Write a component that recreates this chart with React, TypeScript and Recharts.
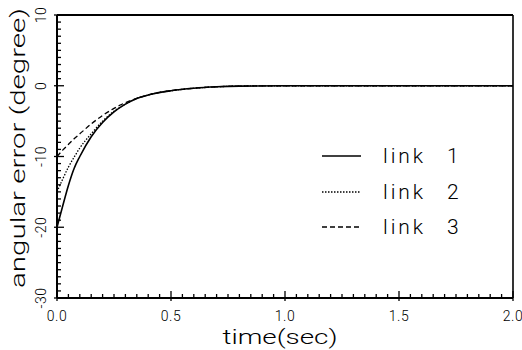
import { LineChart, Line, XAxis, YAxis, ReferenceLine, Legend } from "recharts";

const time = [0, 0.025, 0.05, 0.075, 0.1, 0.15, 0.2, 0.25, 0.3, 0.35, 0.4, 0.5, 0.6, 0.7, 0.8, 1.0, 1.5, 2.0];
const link1 = [-20, -17.0, -14.1, -11.7, -10.0, -7.2, -5.2, -3.7, -2.6, -1.8, -1.3, -0.7, -0.35, -0.15, -0.05, 0, 0, 0];
const link2 = [-15, -13.2, -11.5, -10.1, -8.8, -6.8, -5.0, -3.6, -2.6, -1.8, -1.3, -0.7, -0.35, -0.15, -0.05, 0, 0, 0];
const link3 = [-10, -9.1, -8.3, -7.5, -6.8, -5.4, -4.2, -3.2, -2.4, -1.8, -1.3, -0.7, -0.35, -0.15, -0.05, 0, 0, 0];

const seriesNames = ["link 1", "link 2", "link 3"];
const xMajor = [0, 0.5, 1.0, 1.5, 2.0];
const yMajor = [-30, -20, -10, 0, 10];

const data = time.map((t, i) => ({ t, l1: link1[i], l2: link2[i], l3: link3[i] }));

const xTicks: number[] = [];
for (let i = 0; i <= 40; i++) xTicks.push(+(i * 0.05).toFixed(2));
const yTicks: number[] = [];
for (let v = -30; v <= 10; v++) yTicks.push(v);

const FONT = "Roboto, 'Liberation Sans', sans-serif";
const dashes = ["", "1.5 1.5", "5 3"];
const widths = [1.6, 1.3, 1.3];

function XTick({ x, y, payload }: any) {
  const major = xMajor.some((m) => Math.abs(m - payload.value) < 1e-6);
  return (
    <g>
      <line x1={x} x2={x} y1={major ? y + 3 : y} y2={major ? y - 7 : y - 4} stroke="#000" strokeWidth={1.3} />
      {major && (
        <text x={x} y={y + 18} textAnchor="middle" dominantBaseline="central" fontSize={14} fontWeight={300} letterSpacing={0.5} fontFamily={FONT} fill="#000">
          {payload.value.toFixed(1)}
        </text>
      )}
    </g>
  );
}

function YTick({ x, y, payload }: any) {
  const major = yMajor.includes(payload.value);
  return (
    <g>
      <line x1={major ? x - 3 : x} x2={major ? x + 7 : x + 4} y1={y} y2={y} stroke="#000" strokeWidth={1.3} />
      {major && (
        <text x={x - 16} y={y} transform={`rotate(-90, ${x - 16}, ${y})`} textAnchor="middle" dominantBaseline="central" fontSize={14} fontWeight={300} letterSpacing={0.5} fontFamily={FONT} fill="#000">
          {payload.value}
        </text>
      )}
    </g>
  );
}

function LegendBox() {
  const rows = [18, 54, 89];
  return (
    <svg width={170} height={110}>
      {seriesNames.map((n, i) => (
        <g key={n}>
          <line x1={0} x2={39} y1={rows[i]} y2={rows[i]} stroke="#000" strokeWidth={widths[i]} strokeDasharray={dashes[i] || undefined} />
          <text x={61} y={rows[i]} dominantBaseline="central" fontSize={21} fontWeight={300} fontFamily={FONT} fill="#000" textLength={40} lengthAdjust="spacing">
            {n.split(" ")[0]}
          </text>
          <text x={125} y={rows[i]} dominantBaseline="central" fontSize={21} fontWeight={300} fontFamily={FONT} fill="#000">
            {n.split(" ")[1]}
          </text>
        </g>
      ))}
    </svg>
  );
}

export default function App() {
  return (
    <div style={{ width: 522, height: 350 }}>
      <style>{"html, body { margin: 0; padding: 0; overflow: hidden; }"}</style>
      <LineChart width={522} height={350} data={data} margin={{ top: 15, right: 9, left: 0, bottom: 0 }}>
        <XAxis
          dataKey="t"
          type="number"
          domain={[0, 2]}
          ticks={xTicks}
          interval={0}
          tickSize={0}
          tickMargin={0}
          tickLine={false}
          tick={<XTick />}
          height={52}
          axisLine={{ stroke: "#000", strokeWidth: 2 }}
          label={{
            content: () => (
              <text x={280} y={337} textAnchor="middle" dominantBaseline="central" fontSize={21} fontWeight={300} fontFamily={FONT} fill="#000" textLength={115} lengthAdjust="spacingAndGlyphs">
                time(sec)
              </text>
            ),
          }}
        />
        <YAxis
          type="number"
          domain={[-30, 10]}
          ticks={yTicks}
          interval={0}
          tickSize={0}
          tickMargin={0}
          tickLine={false}
          tick={<YTick />}
          width={57}
          axisLine={{ stroke: "#000", strokeWidth: 2 }}
          label={{
            content: () => (
              <text x={18} y={148} transform="rotate(-90, 18, 148)" textAnchor="middle" dominantBaseline="central" fontSize={21} fontWeight={300} fontFamily={FONT} fill="#000" textLength={280} lengthAdjust="spacingAndGlyphs">
                angular error (degree)
              </text>
            ),
          }}
        />
        <ReferenceLine y={10} stroke="#000" strokeWidth={2} />
        <ReferenceLine x={2} stroke="#000" strokeWidth={1.6} />
        <Legend layout="vertical" align="center" verticalAlign="middle" wrapperStyle={{ left: 322, top: 138, width: 170 }} content={() => <LegendBox />} />
        {["l1", "l2", "l3"].map((k, i) => (
          <Line key={k} dataKey={k} name={seriesNames[i]} type="monotone" stroke="#000" strokeWidth={widths[i]} strokeDasharray={dashes[i] || undefined} dot={false} isAnimationActive={false} />
        ))}
      </LineChart>
    </div>
  );
}
